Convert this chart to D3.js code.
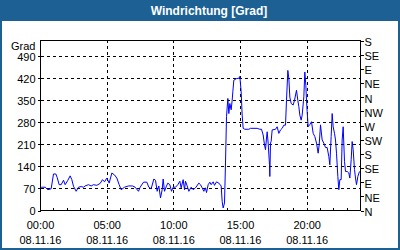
<!DOCTYPE html>
<html><head><meta charset="utf-8">
<script src="https://cdn.jsdelivr.net/npm/d3@7"></script>
<style>
body{margin:0;background:#fff}
svg{display:block}
text{font-family:"Liberation Sans",Arial,sans-serif;font-size:11px;fill:#000}
</style>
</head><body>
<svg id="c" width="400" height="250"></svg>
<script>
const title = "Windrichtung [Grad]";
const yUnit = "Grad";
const leftTicks = [0, 70, 140, 210, 280, 350, 420, 490];
const compassTicks = [0, 45, 90, 135, 180, 225, 270, 315, 360, 405, 450, 495, 540];
const compassLabels = ["N","NE","E","SE","S","SW","W","NW","N","NE","E","SE","S"];
const majorHours = [0, 5, 10, 15, 20];
const timeLabels = ["00:00", "05:00", "10:00", "15:00", "20:00"];
const dateLabel = "08.11.16";
const minorHours = d3.range(1, 24);

const hours = [0.05,0.35,0.55,0.80,0.975,1.15,1.25,1.40,1.55,1.725,1.85,2.05,2.225,2.35,2.475,2.675,2.85,3.05,3.225,3.35,3.6,3.8,3.975,4.225,4.475,4.65,4.8,4.975,5.15,5.35,5.55,5.725,5.9,6.05,6.3,6.6,6.9,7.1,7.35,7.475,7.725,7.975,8.125,8.3,8.5,8.625,8.75,8.875,9.0,9.125,9.2,9.3,9.45,9.55,9.7,9.825,9.95,10.125,10.3,10.45,10.55,10.7,10.8,10.875,11.0,11.125,11.3,11.45,11.625,11.875,12.0,12.125,12.25,12.375,12.45,12.575,12.7,12.8,12.95,13.05,13.2,13.375,13.55,13.625,13.7,13.8,13.875,13.95,14.05,14.125,14.2,14.3,14.375,14.425,14.5,14.7,14.875,14.95,15.05,15.125,15.2,15.325,15.625,15.75,16.25,16.45,16.575,16.7,16.8,16.875,16.95,17.0,17.075,17.175,17.2,17.25,17.3,17.375,17.625,17.75,17.875,18.0,18.125,18.25,18.375,18.45,18.55,18.625,18.7,18.8,18.95,19.05,19.2,19.3,19.375,19.45,19.55,19.625,19.75,19.825,19.9,19.95,20.0,20.075,20.2,20.325,20.45,20.575,20.7,20.825,20.9,21.0,21.125,21.25,21.375,21.5,21.625,21.7,21.8,21.875,21.95,22.05,22.125,22.2,22.3,22.375,22.45,22.55,22.625,22.7,22.8,22.875,23.0,23.125,23.2,23.3,23.375,23.45,23.55,23.625,23.7,23.8,23.925];
const degrees = [74,74,66,69,116,116,105,82,82,96,82,96,110,98,77,61,74,76,74,78,82,78,82,80,86,98,91,103,87,119,113,103,82,66,74,78,78,74,61,74,90,90,74,69,100,96,61,78,40,66,100,61,78,87,82,61,74,74,82,93,72,98,66,93,78,61,74,66,72,87,82,72,61,72,57,82,90,82,91,80,91,87,78,29,8,24,151,298,356,308,340,320,350,377,414,419,420,426,377,303,261,258,258,261,261,258,258,240,208,193,230,250,214,145,108,214,220,256,258,266,245,256,261,271,271,350,445,420,360,340,335,350,382,350,330,303,287,303,361,440,398,350,314,266,273,282,245,235,214,182,208,272,224,214,200,200,171,145,235,308,266,245,224,182,108,66,98,98,224,266,156,124,124,119,103,161,219,193,130,103,82,108,124];

const svg = d3.select("#c");
const W = 400, H = 250;
const blue = "#1d6194";

// frame and title bar
svg.append("rect").attr("x",0).attr("y",0).attr("width",W).attr("height",H).attr("fill",blue);
svg.append("rect").attr("x",2).attr("y",21).attr("width",W-4).attr("height",H-23).attr("fill","#fff");
svg.append("text").attr("x",209).attr("y",15).attr("text-anchor","middle")
  .style("font-weight","bold").style("font-size","12px").style("fill","#fff").text(title);

const x = d3.scaleLinear().domain([0,24]).range([40.5,360.5]);
const y = d3.scaleLinear().domain([0,540]).range([210.5,40.5]);

const g = svg.append("g").attr("shape-rendering","crispEdges");

// grid
g.selectAll(".hg").data(leftTicks.filter(d=>d>0)).join("line")
  .attr("x1",x(0)).attr("x2",x(24)).attr("y1",d=>y(d)).attr("y2",d=>y(d))
  .attr("stroke","#000").attr("stroke-dasharray","3,3");
g.selectAll(".vg").data(majorHours.filter(d=>d>0)).join("line")
  .attr("x1",d=>x(d)).attr("x2",d=>x(d)).attr("y1",y(0)).attr("y2",y(540))
  .attr("stroke","#000").attr("stroke-dasharray","3,3");

// minor hour ticks
g.selectAll(".mt").data(minorHours).join("line")
  .attr("x1",d=>x(d)).attr("x2",d=>x(d)).attr("y1",y(0)).attr("y2",y(0)-3)
  .attr("stroke","#000");

// left axis
const la = svg.append("g").attr("transform",`translate(${x(0)},0)`)
  .call(d3.axisLeft(y).tickValues(leftTicks).tickSize(3).tickPadding(2));
la.select(".domain").remove();
la.selectAll("line").attr("shape-rendering","crispEdges");
la.selectAll("text").style("font-size","11px").style("font-family",null).attr("dy","0.4em");
svg.append("text").attr("x",35.5).attr("y",50).attr("text-anchor","end").text(yUnit);

// right axis
const ra = svg.append("g").attr("transform",`translate(${x(24)},0)`)
  .call(d3.axisRight(y).tickValues(compassTicks).tickFormat((d,i)=>compassLabels[i]).tickSize(3).tickPadding(1));
ra.select(".domain").remove();
ra.selectAll("line").attr("shape-rendering","crispEdges");
ra.selectAll("text").style("font-size","11px").style("font-family",null).attr("dy","0.45em");

// bottom labels
const bl = svg.selectAll(".bl").data(majorHours).join("text")
  .attr("text-anchor","middle").attr("x",d=>x(d));
bl.append("tspan").attr("x",d=>x(d)).attr("y",228.5).text((d,i)=>timeLabels[i]);
bl.append("tspan").attr("x",d=>x(d)).attr("y",243.5).text(dateLabel);

// plot border
g.append("rect").attr("x",x(0)).attr("y",y(540)).attr("width",x(24)-x(0)).attr("height",y(0)-y(540))
  .attr("fill","none").attr("stroke","#000");

// data line
const line = d3.line().x((d,i)=>x(hours[i])).y(d=>y(d));
svg.append("path").datum(degrees).attr("d",line)
  .attr("fill","none").attr("stroke","#0000ff").attr("stroke-width",1);
</script>
</body></html>
